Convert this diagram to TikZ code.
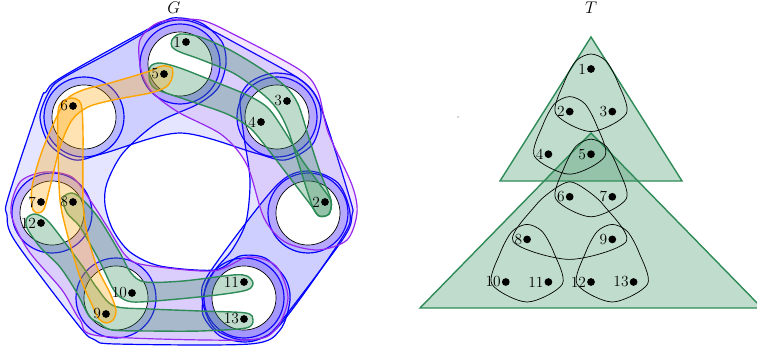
\documentclass[tikz,border=0pt]{standalone}
\usetikzlibrary{calc}
\definecolor{edgegreen}{RGB}{46,139,87}
\definecolor{hullpurple}{RGB}{150,40,240}
\definecolor{bagorange}{RGB}{255,165,0}
\tikzset{
  vtx/.style={circle,fill=black,inner sep=0pt,minimum size=5.5pt},
  lbl/.style={font=\fontsize{11}{13}\selectfont,inner sep=0.4pt},
  hull/.style={blue,line width=0.85pt,fill=blue,fill opacity=0.1},
  phull/.style={hullpurple,line width=0.85pt,fill=hullpurple,fill opacity=0.12},
  gedge/.style={edgegreen,line width=1pt,fill=edgegreen,fill opacity=0.3},
  oedge/.style={bagorange,line width=1pt,fill=bagorange,fill opacity=0.3},
  disc/.style={circle,draw=black,fill=white,line width=0.5pt,minimum size=1.6cm,inner sep=0pt},
  subtree/.style={edgegreen,line width=1pt,fill=edgegreen,fill opacity=0.3},
  bagline/.style={black,line width=0.5pt},
}
% bag of T: apex node, lower left node, lower right node
\newcommand{\tbag}[3]{%
  \draw[bagline] plot[smooth cycle] coordinates {($(#1)+(0,-15)$) ($(#1)+(-15,-8)$)
    ($(#1)!0.5!(#2)!0.45cm!-90:(#2)$) ($(#2)+(-14,2)$)
    ($(#2)!0.5!(#3)+(0,20)$) ($(#3)+(14,2)$)
    ($(#1)!0.5!(#3)!0.45cm!90:(#3)$) ($(#1)+(15,-8)$)};}
\begin{document}
\begin{tikzpicture}[x=0.025cm,y=-0.025cm]
  \useasboundingbox (0,0) rectangle (757,347);
  \node[anchor=base,font=\large] (titleG) at (174,14) {$G$};
  \node[anchor=base,font=\large] (titleT) at (591,14) {$T$};

  % centres of the seven discs of G
  \coordinate (A) at (180,64);
  \coordinate (B) at (277,117);
  \coordinate (C) at (308,213);
  \coordinate (D) at (244,298);
  \coordinate (E) at (116,298);
  \coordinate (F) at (52,213);
  \coordinate (G) at (84,117);

  % blue regions
  \draw[hull] plot[smooth cycle] coordinates {(40,117) (50,90) (63,78) (111,52) (159,25) (180,20)
    (201,25) (250,51) (298,78) (316,96) (321,117) (312,145) (285,160) (255,153) (180,133)
    (105,153) (75,160) (50,145)};
  \draw[hull] plot[smooth cycle] coordinates {(262,76) (277,73) (298,78) (319,103) (350,199)
    (352,215) (343,239) (279,324) (262,338) (244,342) (220,336) (203,315) (205,290) (215,270)
    (232,250) (246,222) (250,180) (244,137) (240,100) (248,84)};
  \draw[hull] plot[smooth cycle] coordinates {(180,18) (203,24) (222,42) (226,64) (218,88)
    (198,104) (157,123) (123,153) (107,183) (105,205) (113,230) (130,252) (160,266) (215,270)
    (240,256) (265,258) (285,278) (290,300) (280,330) (250,344) (116,344) (95,340) (79,326)
    (15,241) (7,215) (8,198) (40,102) (46,92) (62,77) (158,24)};
  \draw[hull] plot[smooth cycle] coordinates {(308,171) (338,183) (350,213) (342,238) (278,327)
    (244,340) (214,328) (202,298) (210,272) (276,186)};
  \foreach \k in {A,B,C,D,E,F,G}
    \draw[hull] (\k) circle (40);

  % purple regions
  \draw[phull] plot[smooth cycle] coordinates {(140,40) (160,22) (200,20) (235,35) (300,70)
    (318,92) (328,132) (352,185) (357,213) (347,240) (318,250) (285,242) (264,218) (247,165)
    (222,135) (178,112) (152,92) (141,70)};
  \draw[phull] plot[smooth cycle] coordinates {(20,182) (45,172) (72,177) (90,200) (108,228)
    (126,256) (145,265) (213,271) (248,257) (276,266) (288,298) (275,330) (244,340) (100,336)
    (80,320) (62,290) (28,250) (11,213)};

  % discs
  \foreach \k in {A,B,C,D,E,F,G}
    \node[disc] (d\k) at (\k) {};

  % edges of G
  \draw[gedge] plot[smooth cycle] coordinates {(172,40) (180,34) (200,37) (230,50) (260,68)
    (285,86) (298,104) (308,135) (320,172) (331,200) (329,214) (319,216) (312,205) (300,168)
    (289,133) (279,112) (265,96) (235,74) (202,60) (180,52) (172,47)};
  \draw[gedge] plot[smooth cycle] coordinates {(150,67) (160,63) (180,68) (213,81) (247,95)
    (268,108) (285,132) (302,160) (321,186) (331,201) (329,214) (319,216) (310,204) (287,174)
    (267,148) (250,128) (227,114) (187,100) (158,90) (150,82)};
  \draw[gedge] plot[smooth cycle] coordinates {(63,198) (72,193) (83,200) (100,220) (120,253)
    (131,273) (145,282) (183,281) (233,275) (247,276) (253,283) (247,290) (217,295) (167,300)
    (133,302) (120,297) (112,287) (99,260) (80,227) (67,213)};
  \draw[gedge] plot[smooth cycle] coordinates {(27,218) (35,214) (47,220) (63,240) (83,267)
    (97,288) (114,306) (150,309) (200,311) (246,313) (253,320) (246,328) (200,331) (150,331)
    (112,330) (99,323) (89,316) (77,293) (60,267) (40,247) (27,228)};
  \draw[oedge] plot[smooth cycle] coordinates {(162,66) (172,68) (172,78) (166,87) (150,93)
    (113,100) (88,107) (72,120) (60,147) (50,187) (44,209) (37,213) (32,207) (32,187) (40,157)
    (52,127) (66,100) (83,90) (110,83) (147,72)};
  \draw[oedge] plot[smooth cycle] coordinates {(58,112) (62,102) (72,98) (81,104) (83,133)
    (83,200) (87,233) (97,267) (110,293) (116,310) (113,320) (106,323) (99,319) (93,307)
    (80,277) (67,233) (60,200) (58,150)};

  % vertices of G
  \foreach \n/\x/\y in {1/186/42, 2/325/202, 3/287/101, 4/261/122, 5/164/74, 6/73/106,
      7/41/202, 8/73/202, 9/106/314, 10/132/293, 11/244/282, 12/41/223, 13/244/319}
    \node[vtx,label={[lbl]left:\n}] (g\n) at (\x,\y) {};

  % the tree T
  \draw[subtree] (591,133) -- (420,308) -- (762,308) -- cycle;
  \draw[subtree] (591,37) -- (500,181) -- (682,181) -- cycle;
  \foreach \n/\i/\j in {1/0/0, 2/-0.5/1, 3/0.5/1, 4/-1/2, 5/0/2, 6/-0.5/3, 7/0.5/3,
      8/-1.5/4, 9/0.5/4, 10/-2/5, 11/-1/5, 12/0/5, 13/1/5}
    \node[vtx,label={[lbl]left:\n}] (t\n) at ({591+42.6*\i},{69+42.6*\j}) {};
  \tbag{t1}{t2}{t3}
  \tbag{t2}{t4}{t5}
  \tbag{t5}{t6}{t7}
  \tbag{t6}{t8}{t9}
  \tbag{t8}{t10}{t11}
  \tbag{t9}{t12}{t13}
  \node[circle,fill=black!70,inner sep=0pt,minimum size=1pt] (stray) at (458,117) {};
\end{tikzpicture}
\end{document}
